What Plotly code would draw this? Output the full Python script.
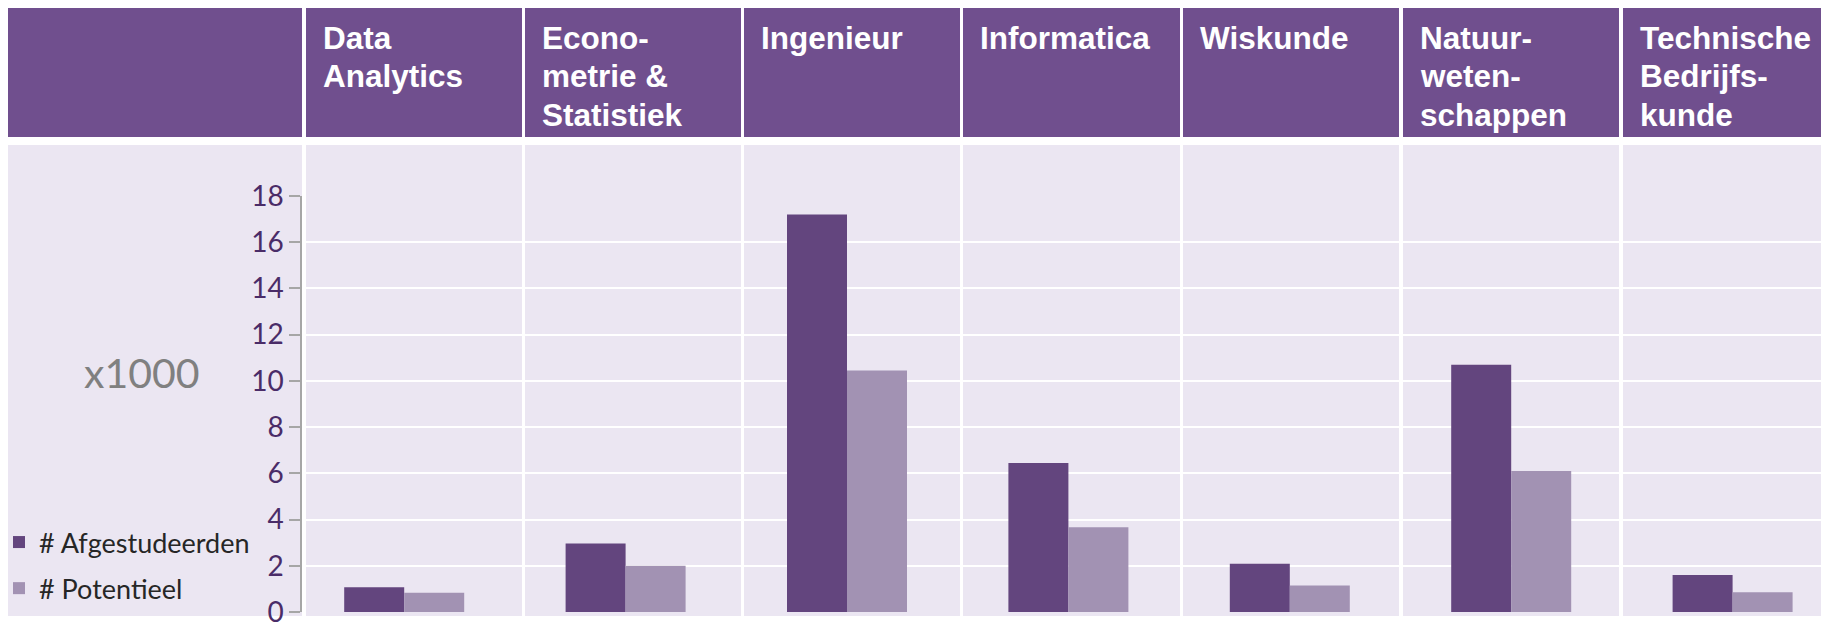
import plotly.graph_objects as go

# ---------------- data ----------------
categories = ["Data Analytics", "Econometrie & Statistiek", "Ingenieur", "Informatica",
              "Wiskunde", "Natuurwetenschappen", "Technische Bedrijfskunde"]
header_lines = [["Data", "Analytics"], ["Econo-", "metrie &", "Statistiek"], ["Ingenieur"],
                ["Informatica"], ["Wiskunde"], ["Natuur-", "weten-", "schappen"],
                ["Technische", "Bedrijfs-", "kunde"]]
afgestudeerden = [1.07, 2.96, 17.2, 6.45, 2.09, 10.7, 1.6]
potentieel = [0.83, 2.0, 10.45, 3.67, 1.15, 6.1, 0.85]
series_names = ["# Afgestudeerden", "# Potentieel"]
y_ticks = [0, 2, 4, 6, 8, 10, 12, 14, 16, 18]

# ---------------- layout geometry (screen pixels; page body has an 8px margin) ----------------
OFF = 8
W, H = 1829 - OFF, 625 - OFF
L, R, T, B = 302 - OFF, 0, 196 - OFF, 625 - 612
PW, PH = W - L - R, H - T - B


def px2x(px):
    return (px - OFF - L) / PW


def px2y(py):
    return (H - B - (py - OFF)) / PH


HEADER_PURPLE = "#704F8E"
BODY_LAV = "#EBE6F2"
DARK = "#63457E"
LIGHT = "#A292B3"

cell_left = [8, 306, 525, 744, 963, 1183, 1403, 1623]
cell_right = [302, 522, 741, 960, 1180, 1399, 1619, 1829]
head_top, head_bot = 8, 137
body_top, body_bot = 145, 616

fig = go.Figure()
fig.add_trace(go.Bar(x=list(range(len(categories))), y=afgestudeerden, name=series_names[0],
                     marker=dict(color=DARK, line=dict(width=0)), legendgroup="a",
                     hovertext=categories))
fig.add_trace(go.Bar(x=list(range(len(categories))), y=potentieel, name=series_names[1],
                     marker=dict(color=LIGHT, line=dict(width=0)), legendgroup="b",
                     hovertext=categories))

shapes = []
for xl, xr in zip(cell_left, cell_right):
    shapes.append(dict(type="rect", xref="paper", yref="paper", layer="below",
                       x0=px2x(xl), x1=px2x(xr), y0=px2y(head_bot), y1=px2y(head_top),
                       fillcolor=HEADER_PURPLE, line=dict(width=0)))
    shapes.append(dict(type="rect", xref="paper", yref="paper", layer="below",
                       x0=px2x(xl), x1=px2x(xr), y0=px2y(body_bot), y1=px2y(body_top),
                       fillcolor=BODY_LAV, line=dict(width=0)))

annotations = []
line_centers = [37.5, 76.5, 115]
for i, lines in enumerate(header_lines):
    for j, ln in enumerate(lines):
        annotations.append(dict(xref="paper", yref="paper", x=px2x(cell_left[i + 1] + 15),
                                y=px2y(line_centers[j]), xanchor="left", yanchor="middle",
                                text=ln, showarrow=False,
                                font=dict(family="Liberation Sans", size=31.5, color="white",
                                          weight="bold")))
annotations.append(dict(xref="paper", yref="paper", x=px2x(142), y=px2y(372),
                        xanchor="center", yanchor="middle", text="x1000", showarrow=False,
                        font=dict(family="Lato", size=41, color="#808080")))

fig.update_layout(
    width=W, height=H,
    margin=dict(l=L, r=R, t=T, b=B, pad=0, autoexpand=False),
    paper_bgcolor="white", plot_bgcolor="rgba(0,0,0,0)",
    barmode="group", bargap=0.458, bargroupgap=0,
    shapes=shapes, annotations=annotations,
    showlegend=True,
    legend=dict(x=px2x(-1), y=px2y(518), xanchor="left", yanchor="top",
                bgcolor="rgba(0,0,0,0)", font=dict(family="Lato", size=27, color="#262626"),
                itemwidth=30, tracegroupgap=8, traceorder="grouped"),
    font=dict(family="Lato"),
)
p0, step = 404.2, 221.4
fig.update_xaxes(range=[(302 - p0) / step, (1829 - p0) / step], showgrid=False,
                 showticklabels=False, ticks="", showline=False, zeroline=False, fixedrange=True)
fig.update_yaxes(range=[0, 18], tickvals=y_ticks, showgrid=True, gridcolor="white", gridwidth=2,
                 zeroline=False, showline=True, linecolor="#A6A6A6", linewidth=1.5,
                 ticks="outside", ticklen=11, tickcolor="#A6A6A6", tickwidth=1.5,
                 ticklabelstandoff=0, ticklabeloverflow="allow",
                 tickfont=dict(family="Lato", size=28, color="#4A2C68"))

fig.write_html("out.html")
